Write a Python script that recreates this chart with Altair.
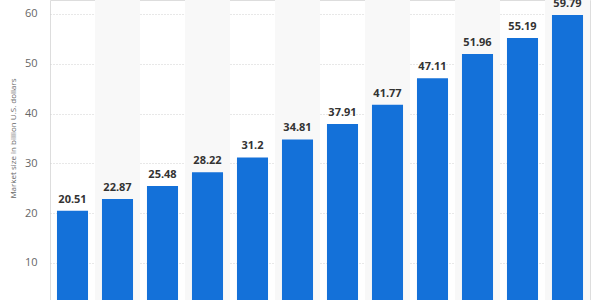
import altair as alt
import pandas as pd

years = ["2019", "2020", "2021", "2022", "2023", "2024", "2025", "2026", "2027", "2028", "2029", "2030"]
market_size = [20.51, 22.87, 25.48, 28.22, 31.2, 34.81, 37.91, 41.77, 47.11, 51.96, 55.19, 59.79]
labels = ["20.51", "22.87", "25.48", "28.22", "31.2", "34.81", "37.91", "41.77", "47.11", "51.96", "55.19", "59.79"]
y_ticks = [10, 20, 30, 40, 50, 60]

df = pd.DataFrame({
    "year": years,
    "value": market_size,
    "label": labels,
    "stripe": [i % 2 == 1 for i in range(len(years))],
})

ymin, ymax = 2.57, 62.8
xscale = alt.Scale(domain=years, paddingInner=0, paddingOuter=0)
yscale = alt.Scale(domain=[ymin, ymax], nice=False, zero=False)

base = alt.Chart(df)

stripes = base.transform_filter("datum.stripe").mark_rect(color="#f8f8f8").encode(
    x=alt.X("year:N", scale=xscale, axis=None),
    y=alt.value(0),
    y2=alt.value(300),
)

grid = base.mark_bar(opacity=0).encode(
    x=alt.X("year:N", scale=xscale, axis=None),
    y=alt.Y(
        "value:Q",
        scale=yscale,
        axis=alt.Axis(
            values=y_ticks,
            grid=True,
            gridColor="#d0d0d0",
            gridDash=[1, 2],
            gridWidth=1,
            domain=False,
            ticks=False,
            labelColor="#666666",
            labelFontSize=11,
            labelFont="Open Sans",
            labelPadding=13,
            title="Market size in billion U.S. dollars",
            titleFontSize=8,
            titleFontWeight="normal",
            titleFont="Open Sans",
            titleColor="#666666",
            titleX=-37,
            titleY=138,
            titleAlign="center",
            titleBaseline="middle",
        ),
    ),
)

bars = base.mark_bar(color="#1471d9", width={"band": 0.69}, clip=True).encode(
    x=alt.X("year:N", scale=xscale, axis=None),
    y=alt.Y("value:Q", scale=yscale),
    y2=alt.datum(0),
)

text = base.mark_text(
    baseline="bottom", dy=-6, fontSize=11, fontWeight="bold", color="#333333", font="Open Sans"
).encode(
    x=alt.X("year:N", scale=xscale, axis=None),
    y=alt.Y("value:Q", scale=yscale),
    text="label:N",
)

chart = alt.layer(stripes, grid, bars, text).properties(
    width=540,
    height=300,
    autosize=alt.AutoSizeParams(type="none"),
    padding={"left": 50, "top": 0, "right": 16, "bottom": 0},
).configure_view(stroke=None).configure(background="white")

chart.save("out.html", embed_options={"renderer": "svg", "actions": False})
